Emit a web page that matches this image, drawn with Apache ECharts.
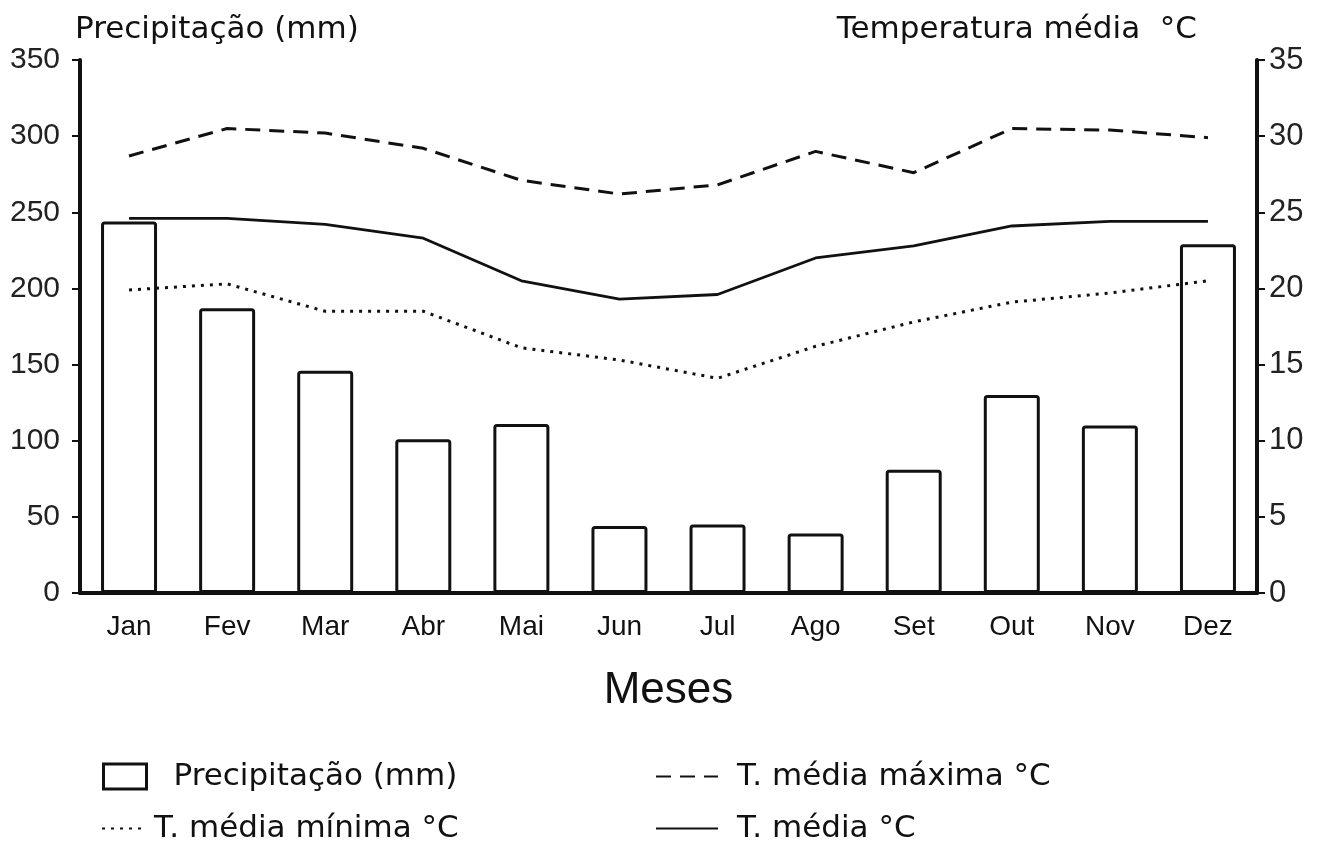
<!DOCTYPE html>
<html lang="pt">
<head>
<meta charset="UTF-8">
<title>Climograma</title>
<script src="https://cdn.jsdelivr.net/npm/echarts@6/dist/echarts.min.js"></script>
<style>
  html, body { margin: 0; padding: 0; background: #fff; }
  #main { width: 1324px; height: 843px; }
</style>
</head>
<body>
<div id="main"></div>
<script type="text/javascript">
// meses e valores
var meses = ['Jan', 'Fev', 'Mar', 'Abr', 'Mai', 'Jun', 'Jul', 'Ago', 'Set', 'Out', 'Nov', 'Dez'];
var precipitacao = [244, 187, 146, 101, 111, 44, 45, 39, 81, 130, 110, 229];
var tMaxima = [28.7, 30.5, 30.2, 29.2, 27.1, 26.2, 26.8, 29.0, 27.6, 30.5, 30.4, 29.9];
var tMedia = [24.6, 24.6, 24.2, 23.3, 20.5, 19.3, 19.6, 22.0, 22.8, 24.1, 24.4, 24.4];
var tMinima = [19.9, 20.3, 18.5, 18.5, 16.1, 15.3, 14.1, 16.2, 17.8, 19.1, 19.7, 20.5];

// escalas dos eixos
var precipEixo = { min: 0, max: 350, interval: 50 };
var tempEixo = { min: 0, max: 35, interval: 5 };

var preto = '#111';
var fonteTitulo = '"DejaVu Sans", sans-serif';
var fonteNum = '"Liberation Sans", Arial, sans-serif';

var myChart = echarts.init(document.getElementById('main'));

myChart.setOption({
    backgroundColor: '#fff',
    animation: false,
    grid: { left: 80, right: 67, top: 60, bottom: 250, containLabel: false },
    legend: [
        {
            left: 97, top: 756, itemWidth: 43, itemHeight: 25, selectedMode: false,
            textStyle: { fontFamily: fonteTitulo, fontSize: 31, color: preto, padding: [0, 0, 0, 22] },
            data: [{ name: 'Precipitação (mm)', icon: 'rect',
                itemStyle: { color: 'rgba(0,0,0,0)', borderColor: preto, borderWidth: 3 } }]
        },
        {
            left: 96, top: 808, itemWidth: 40, itemHeight: 26, selectedMode: false,
            textStyle: { fontFamily: fonteTitulo, fontSize: 31, color: preto, padding: [0, 0, 0, 7] },
            data: [{ name: 'T. média mínima °C', itemStyle: { opacity: 0 } }]
        },
        {
            left: 650, top: 756, itemWidth: 62, itemHeight: 26, selectedMode: false,
            textStyle: { fontFamily: fonteTitulo, fontSize: 31, color: preto, padding: [0, 0, 0, 14] },
            data: [{ name: 'T. média máxima °C', itemStyle: { opacity: 0 } }]
        },
        {
            left: 650, top: 808, itemWidth: 62, itemHeight: 26, selectedMode: false,
            textStyle: { fontFamily: fonteTitulo, fontSize: 31, color: preto, padding: [0, 0, 0, 14] },
            data: [{ name: 'T. média °C', itemStyle: { opacity: 0 } }]
        }
    ],
    xAxis: {
        type: 'category',
        data: meses,
        boundaryGap: true,
        name: 'Meses',
        nameLocation: 'middle',
        nameGap: 76,
        nameTextStyle: { fontFamily: fonteNum, fontSize: 44, color: preto },
        axisLine: { lineStyle: { color: preto, width: 4 } },
        axisTick: { show: false },
        axisLabel: { margin: 20, fontFamily: fonteNum, fontSize: 28, color: preto }
    },
    yAxis: [
        {
            type: 'value',
            position: 'left',
            min: precipEixo.min, max: precipEixo.max, interval: precipEixo.interval,
            name: 'Precipitação (mm)',
            nameLocation: 'end',
            nameGap: 15,
            nameTextStyle: { fontFamily: fonteTitulo, fontSize: 31, color: preto, align: 'left', padding: [0, 0, 0, -5] },
            axisLine: { show: true, lineStyle: { color: preto, width: 4 } },
            axisTick: { show: true, length: 8, lineStyle: { color: preto, width: 2 } },
            axisLabel: { margin: 20, fontFamily: fonteNum, fontSize: 30, color: '#222' },
            splitLine: { show: false }
        },
        {
            type: 'value',
            position: 'right',
            min: tempEixo.min, max: tempEixo.max, interval: tempEixo.interval,
            name: 'Temperatura média  °C',
            nameLocation: 'end',
            nameGap: 15,
            nameTextStyle: { fontFamily: fonteTitulo, fontSize: 31, color: preto, align: 'right', padding: [0, 60, 0, 0] },
            axisLine: { show: true, lineStyle: { color: preto, width: 4 } },
            axisTick: { show: true, length: 8, lineStyle: { color: preto, width: 2 } },
            axisLabel: { margin: 12, fontFamily: fonteNum, fontSize: 31, color: '#222' },
            splitLine: { show: false }
        }
    ],
    series: [
        {
            name: 'Precipitação (mm)',
            type: 'bar',
            yAxisIndex: 0,
            barWidth: 56,
            data: precipitacao,
            itemStyle: { color: 'rgba(0,0,0,0)', borderColor: preto, borderWidth: 3, borderRadius: 2 }
        },
        {
            name: 'T. média máxima °C',
            type: 'line',
            yAxisIndex: 1,
            symbol: 'none',
            data: tMaxima,
            lineStyle: { color: preto, width: 3, type: [15, 9] },
            itemStyle: { color: preto }
        },
        {
            name: 'T. média °C',
            type: 'line',
            yAxisIndex: 1,
            symbol: 'none',
            data: tMedia,
            lineStyle: { color: preto, width: 2.8, type: 'solid' },
            itemStyle: { color: preto }
        },
        {
            name: 'T. média mínima °C',
            type: 'line',
            yAxisIndex: 1,
            symbol: 'none',
            data: tMinima,
            lineStyle: { color: preto, width: 3, type: [3, 6] },
            itemStyle: { color: preto }
        }
    ]
});

window.addEventListener('resize', function () {
    myChart.resize();
});
</script>
</body>
</html>
